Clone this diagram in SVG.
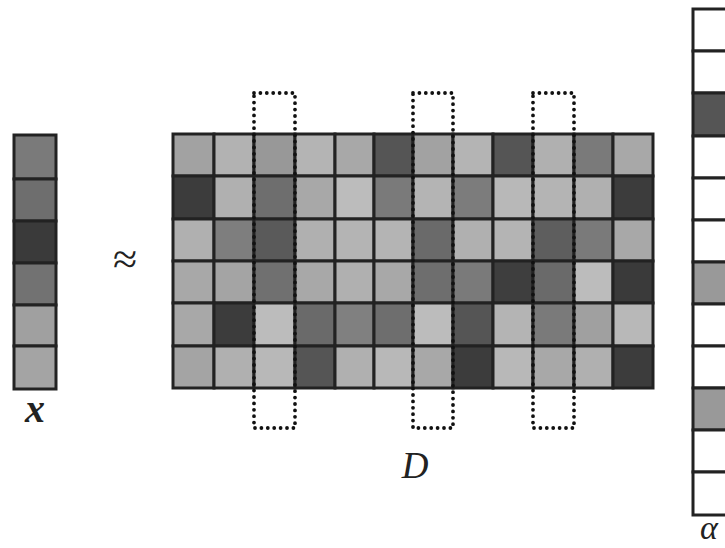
<svg xmlns="http://www.w3.org/2000/svg" width="725" height="548" viewBox="0 0 725 548">
<style>
.c{stroke:#222;stroke-width:3}
.dot{fill:none;stroke:#111;stroke-width:3.8;stroke-linecap:round;stroke-dasharray:0 6.4}
.lbl{font-family:"Liberation Serif","DejaVu Serif",serif;fill:#222}
</style>
<rect width="725" height="548" fill="#fff"/>
<g id="vector-x">
<rect class="c" x="14" y="135" width="42" height="44" fill="#7a7a7a"/>
<rect class="c" x="14" y="179" width="42" height="42" fill="#6e6e6e"/>
<rect class="c" x="14" y="221" width="42" height="42" fill="#3a3a3a"/>
<rect class="c" x="14" y="263" width="42" height="42" fill="#727272"/>
<rect class="c" x="14" y="305" width="42" height="41" fill="#a0a0a0"/>
<rect class="c" x="14" y="346" width="42" height="43" fill="#a4a4a4"/>
</g>
<g id="matrix-D">
<!-- row 0 -->
<rect class="c" x="173" y="134" width="41" height="42" fill="#a2a2a2"/>
<rect class="c" x="214" y="134" width="40" height="42" fill="#b2b2b2"/>
<rect class="c" x="254" y="134" width="41" height="42" fill="#989898"/>
<rect class="c" x="295" y="134" width="40" height="42" fill="#b4b4b4"/>
<rect class="c" x="335" y="134" width="39" height="42" fill="#a8a8a8"/>
<rect class="c" x="374" y="134" width="39" height="42" fill="#555"/>
<rect class="c" x="413" y="134" width="40" height="42" fill="#a2a2a2"/>
<rect class="c" x="453" y="134" width="40" height="42" fill="#b4b4b4"/>
<rect class="c" x="493" y="134" width="40" height="42" fill="#555"/>
<rect class="c" x="533" y="134" width="41" height="42" fill="#b0b0b0"/>
<rect class="c" x="574" y="134" width="39" height="42" fill="#7a7a7a"/>
<rect class="c" x="613" y="134" width="40" height="42" fill="#a8a8a8"/>
<!-- row 1 -->
<rect class="c" x="173" y="176" width="41" height="43" fill="#3c3c3c"/>
<rect class="c" x="214" y="176" width="40" height="43" fill="#b0b0b0"/>
<rect class="c" x="254" y="176" width="41" height="43" fill="#6e6e6e"/>
<rect class="c" x="295" y="176" width="40" height="43" fill="#a8a8a8"/>
<rect class="c" x="335" y="176" width="39" height="43" fill="#bcbcbc"/>
<rect class="c" x="374" y="176" width="39" height="43" fill="#7a7a7a"/>
<rect class="c" x="413" y="176" width="40" height="43" fill="#b4b4b4"/>
<rect class="c" x="453" y="176" width="40" height="43" fill="#7c7c7c"/>
<rect class="c" x="493" y="176" width="40" height="43" fill="#b8b8b8"/>
<rect class="c" x="533" y="176" width="41" height="43" fill="#b4b4b4"/>
<rect class="c" x="574" y="176" width="39" height="43" fill="#b0b0b0"/>
<rect class="c" x="613" y="176" width="40" height="43" fill="#3c3c3c"/>
<!-- row 2 -->
<rect class="c" x="173" y="219" width="41" height="42" fill="#b0b0b0"/>
<rect class="c" x="214" y="219" width="40" height="42" fill="#7e7e7e"/>
<rect class="c" x="254" y="219" width="41" height="42" fill="#5a5a5a"/>
<rect class="c" x="295" y="219" width="40" height="42" fill="#b0b0b0"/>
<rect class="c" x="335" y="219" width="39" height="42" fill="#b4b4b4"/>
<rect class="c" x="374" y="219" width="39" height="42" fill="#b4b4b4"/>
<rect class="c" x="413" y="219" width="40" height="42" fill="#6a6a6a"/>
<rect class="c" x="453" y="219" width="40" height="42" fill="#b0b0b0"/>
<rect class="c" x="493" y="219" width="40" height="42" fill="#b4b4b4"/>
<rect class="c" x="533" y="219" width="41" height="42" fill="#5e5e5e"/>
<rect class="c" x="574" y="219" width="39" height="42" fill="#7a7a7a"/>
<rect class="c" x="613" y="219" width="40" height="42" fill="#a8a8a8"/>
<!-- row 3 -->
<rect class="c" x="173" y="261" width="41" height="42" fill="#a8a8a8"/>
<rect class="c" x="214" y="261" width="40" height="42" fill="#a4a4a4"/>
<rect class="c" x="254" y="261" width="41" height="42" fill="#707070"/>
<rect class="c" x="295" y="261" width="40" height="42" fill="#a8a8a8"/>
<rect class="c" x="335" y="261" width="39" height="42" fill="#b0b0b0"/>
<rect class="c" x="374" y="261" width="39" height="42" fill="#a8a8a8"/>
<rect class="c" x="413" y="261" width="40" height="42" fill="#6e6e6e"/>
<rect class="c" x="453" y="261" width="40" height="42" fill="#7a7a7a"/>
<rect class="c" x="493" y="261" width="40" height="42" fill="#3e3e3e"/>
<rect class="c" x="533" y="261" width="41" height="42" fill="#6a6a6a"/>
<rect class="c" x="574" y="261" width="39" height="42" fill="#bcbcbc"/>
<rect class="c" x="613" y="261" width="40" height="42" fill="#3a3a3a"/>
<!-- row 4 -->
<rect class="c" x="173" y="303" width="41" height="43" fill="#a8a8a8"/>
<rect class="c" x="214" y="303" width="40" height="43" fill="#3c3c3c"/>
<rect class="c" x="254" y="303" width="41" height="43" fill="#bcbcbc"/>
<rect class="c" x="295" y="303" width="40" height="43" fill="#6a6a6a"/>
<rect class="c" x="335" y="303" width="39" height="43" fill="#808080"/>
<rect class="c" x="374" y="303" width="39" height="43" fill="#6e6e6e"/>
<rect class="c" x="413" y="303" width="40" height="43" fill="#bcbcbc"/>
<rect class="c" x="453" y="303" width="40" height="43" fill="#555"/>
<rect class="c" x="493" y="303" width="40" height="43" fill="#b4b4b4"/>
<rect class="c" x="533" y="303" width="41" height="43" fill="#7a7a7a"/>
<rect class="c" x="574" y="303" width="39" height="43" fill="#a0a0a0"/>
<rect class="c" x="613" y="303" width="40" height="43" fill="#b8b8b8"/>
<!-- row 5 -->
<rect class="c" x="173" y="346" width="41" height="42" fill="#a4a4a4"/>
<rect class="c" x="214" y="346" width="40" height="42" fill="#b0b0b0"/>
<rect class="c" x="254" y="346" width="41" height="42" fill="#b8b8b8"/>
<rect class="c" x="295" y="346" width="40" height="42" fill="#555"/>
<rect class="c" x="335" y="346" width="39" height="42" fill="#b0b0b0"/>
<rect class="c" x="374" y="346" width="39" height="42" fill="#b8b8b8"/>
<rect class="c" x="413" y="346" width="40" height="42" fill="#a8a8a8"/>
<rect class="c" x="453" y="346" width="40" height="42" fill="#3c3c3c"/>
<rect class="c" x="493" y="346" width="40" height="42" fill="#b8b8b8"/>
<rect class="c" x="533" y="346" width="41" height="42" fill="#a8a8a8"/>
<rect class="c" x="574" y="346" width="39" height="42" fill="#b0b0b0"/>
<rect class="c" x="613" y="346" width="40" height="42" fill="#3c3c3c"/>
</g>
<g id="atoms">
<rect id="atom-1" class="dot" x="254" y="93" width="41" height="335"/>
<rect id="atom-2" class="dot" x="413" y="93" width="40" height="335"/>
<rect id="atom-3" class="dot" x="533" y="93" width="41" height="335"/>
</g>
<g id="vector-alpha">
<rect class="c" x="693" y="9" width="50" height="42" fill="#fff"/>
<rect class="c" x="693" y="51" width="50" height="42" fill="#fff"/>
<rect class="c" x="693" y="93" width="50" height="43" fill="#555"/>
<rect class="c" x="693" y="136" width="50" height="42" fill="#fff"/>
<rect class="c" x="693" y="178" width="50" height="42" fill="#fff"/>
<rect class="c" x="693" y="220" width="50" height="42" fill="#fff"/>
<rect class="c" x="693" y="262" width="50" height="42" fill="#999"/>
<rect class="c" x="693" y="304" width="50" height="42" fill="#fff"/>
<rect class="c" x="693" y="346" width="50" height="42" fill="#fff"/>
<rect class="c" x="693" y="388" width="50" height="42" fill="#999"/>
<rect class="c" x="693" y="430" width="50" height="42" fill="#fff"/>
<rect class="c" x="693" y="472" width="50" height="43" fill="#fff"/>
</g>
<g id="labels">
<text class="lbl" x="125" y="274" font-size="44" text-anchor="middle" fill="#444">≈</text>
<text class="lbl" x="35" y="422" font-size="40" font-style="italic" font-weight="bold" text-anchor="middle">x</text>
<text class="lbl" x="415" y="478" font-size="37" font-style="italic" text-anchor="middle">D</text>
<text class="lbl" x="700" y="539" font-size="34" font-style="italic">α</text>
</g>
</svg>
